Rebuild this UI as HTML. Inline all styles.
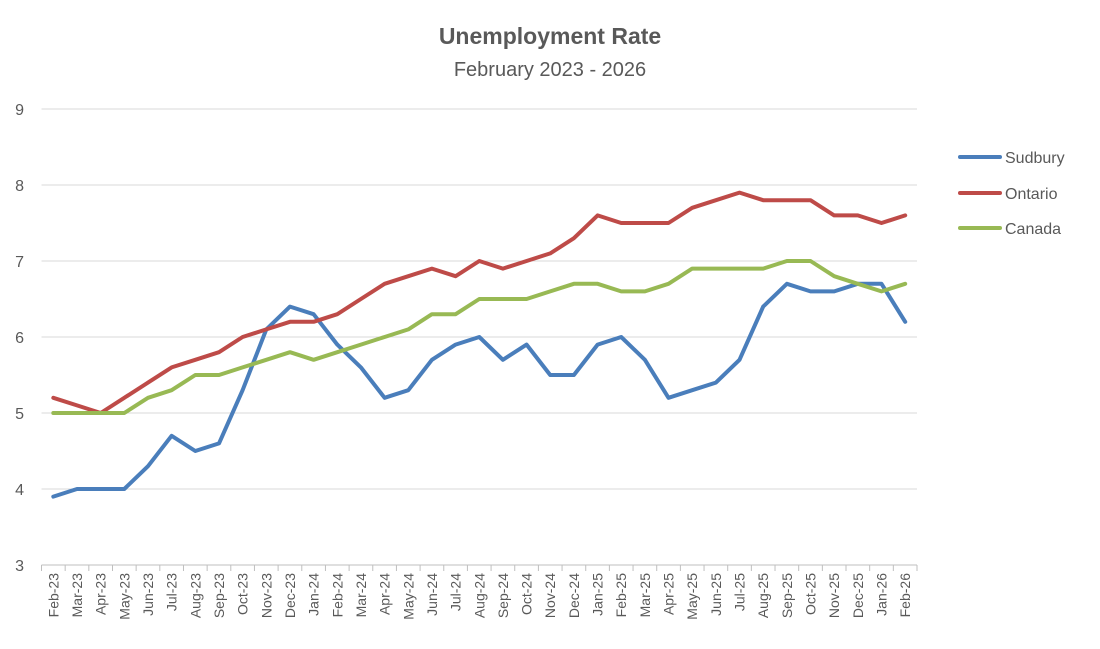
<!DOCTYPE html>
<html><head><meta charset="utf-8"><style>
body{margin:0;background:#fff;}
svg{display:block;font-family:"Liberation Sans",Arial,sans-serif;}
</style></head><body>
<svg id="c" width="1100" height="649" xmlns="http://www.w3.org/2000/svg">
<text x="550" y="44" text-anchor="middle" font-size="23" font-weight="bold" fill="#595959">Unemployment Rate</text>
<text x="550" y="76" text-anchor="middle" font-size="20" fill="#595959">February 2023 - 2026</text>
</svg>
<script>
const s=document.getElementById('c'),NS='http://www.w3.org/2000/svg';
function el(t,a,txt){const e=document.createElementNS(NS,t);for(const k in a)e.setAttribute(k,a[k]);if(txt!=null)e.textContent=txt;s.appendChild(e);return e;}
const x0=41.5,x1=917,yv=v=>565-(v-3)*76,n=37,w=(x1-x0)/n,xc=i=>x0+w*(i+0.5);
for(let v=3;v<=9;v++){const y=yv(v);el('line',{x1:x0,x2:x1,y1:y,y2:y,stroke:v==3?'#bfbfbf':'#d9d9d9','stroke-width':1});
el('text',{x:24,y:y+6,'text-anchor':'end','font-size':16,fill:'#595959'},v);}
for(let i=0;i<=n;i++){const x=x0+w*i;el('line',{x1:x,x2:x,y1:565,y2:571,stroke:'#bfbfbf'});}
const mon=['Feb','Mar','Apr','May','Jun','Jul','Aug','Sep','Oct','Nov','Dec','Jan'];
for(let i=0;i<n;i++){const m=mon[i%12];const yr=23+Math.floor((i+1)/12);const x=xc(i)+5;
el('text',{x:x,y:573,'text-anchor':'end','font-size':14,fill:'#595959',transform:`rotate(-90 ${x} 573)`},m+'-'+yr);}
const S=[3.9,4.0,4.0,4.0,4.3,4.7,4.5,4.6,5.3,6.1,6.4,6.3,5.9,5.6,5.2,5.3,5.7,5.9,6.0,5.7,5.9,5.5,5.5,5.9,6.0,5.7,5.2,5.3,5.4,5.7,6.4,6.7,6.6,6.6,6.7,6.7,6.2];
const O=[5.2,5.1,5.0,5.2,5.4,5.6,5.7,5.8,6.0,6.1,6.2,6.2,6.3,6.5,6.7,6.8,6.9,6.8,7.0,6.9,7.0,7.1,7.3,7.6,7.5,7.5,7.5,7.7,7.8,7.9,7.8,7.8,7.8,7.6,7.6,7.5,7.6];
const C=[5.0,5.0,5.0,5.0,5.2,5.3,5.5,5.5,5.6,5.7,5.8,5.7,5.8,5.9,6.0,6.1,6.3,6.3,6.5,6.5,6.5,6.6,6.7,6.7,6.6,6.6,6.7,6.9,6.9,6.9,6.9,7.0,7.0,6.8,6.7,6.6,6.7];
[[S,'#4a7ebb'],[O,'#be4b48'],[C,'#98b954']].forEach(([d,c])=>{
el('polyline',{points:d.map((v,i)=>xc(i).toFixed(1)+','+yv(v).toFixed(1)).join(' '),fill:'none',stroke:c,'stroke-width':4,'stroke-linejoin':'round','stroke-linecap':'round'});});
[['Sudbury','#4a7ebb',157],['Ontario','#be4b48',193],['Canada','#98b954',228]].forEach(([t,c,y])=>{
el('line',{x1:960,x2:1000,y1:y,y2:y,stroke:c,'stroke-width':4,'stroke-linecap':'round'});
el('text',{x:1005,y:y+6,'font-size':16,fill:'#595959'},t);});
</script>
</body></html>
